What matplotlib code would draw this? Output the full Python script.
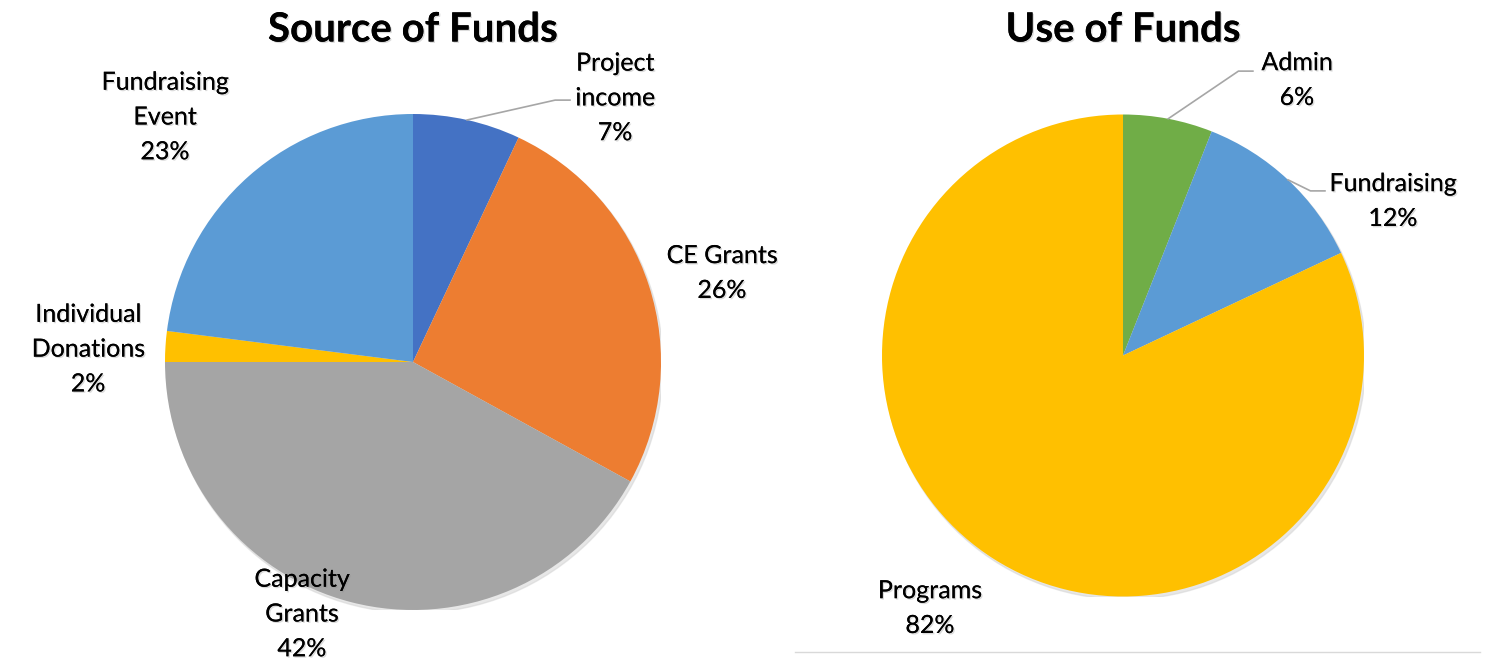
import numpy as np
import matplotlib.pyplot as plt
import matplotlib.patheffects as pe
from matplotlib.lines import Line2D
from matplotlib.patches import Circle

plt.rcParams['font.family'] = ['Lato', 'DejaVu Sans']

# data
source_labels = ['Project\nincome', 'CE Grants', 'Capacity\nGrants', 'Individual\nDonations', 'Fundraising\nEvent']
source_values = [7, 26, 42, 2, 23]
source_colors = ['#4472C4', '#ED7D31', '#A5A5A5', '#FFC000', '#5B9BD5']

use_labels = ['Admin', 'Fundraising', 'Programs']
use_values = [6, 12, 82]
use_colors = ['#70AD47', '#5B9BD5', '#FFC000']

# label placement (in pie radius units) and leader line ends
source_text_pos = [(0.815, 1.065), (1.246, 0.359), (-0.448, -1.016), (-1.31, 0.052), (-1.0, 0.988)]
source_leaders = {0: (0.633, 1.056)}
use_text_pos = [(0.722, 1.143), (1.12, 0.641), (-0.801, -1.048)]
use_leaders = {0: (0.539, 1.18), 1: (0.838, 0.683)}

W, H = 1486, 660
fig = plt.figure(figsize=(W / 100, H / 100), dpi=100)

txt_fx = [pe.withSimplePatchShadow(offset=(1, -1), shadow_rgbFace='#888888', alpha=0.3), pe.Normal()]


def draw_pie(cx, cy, r, values, colors, labels, text_pos, leaders, title):
    ax = fig.add_axes([(cx - r) / W, (H - cy - r) / H, 2 * r / W, 2 * r / H])
    # soft shadow behind the pie
    ax.add_patch(Circle((0.008, -0.012), 1.0, color='#d4d4d4', alpha=0.55, zorder=0))
    wedges, _ = ax.pie(values, colors=colors, startangle=90, counterclock=False,
                       radius=1, wedgeprops={'linewidth': 0})
    total = sum(values)
    for i, (lab, v) in enumerate(zip(labels, values)):
        tx, ty = text_pos[i]
        ax.text(tx, ty, f'{lab}\n{round(100 * v / total)}%', ha='center', va='center',
                fontsize=18, linespacing=1.62, color='black', clip_on=False, path_effects=txt_fx)
        if i in leaders:
            w = wedges[i]
            mid = np.deg2rad((w.theta1 + w.theta2) / 2)
            ex, ey = np.cos(mid), np.sin(mid)
            lx, ly = leaders[i]
            ax.add_line(Line2D([ex, lx - 0.06, lx], [ey, ly, ly], color='#a6a6a6', lw=1.2, clip_on=False))
    ax.set_xlim(-1, 1)
    ax.set_ylim(-1, 1)
    ax.axis('off')
    fig.text(cx / W, 1 - 30 / H, title, ha='center', va='center', fontsize=29,
             fontweight='bold', path_effects=txt_fx)


draw_pie(413, 362, 248, source_values, source_colors, source_labels,
         source_text_pos, source_leaders, 'Source of Funds')
draw_pie(1123, 355.5, 241, use_values, use_colors, use_labels,
         use_text_pos, use_leaders, 'Use of Funds')

fig.add_artist(Line2D([795 / W, 1480 / W], [1 - 652 / H, 1 - 652 / H], color='#d9d9d9', lw=1))

fig.savefig('out.png', dpi=100)
